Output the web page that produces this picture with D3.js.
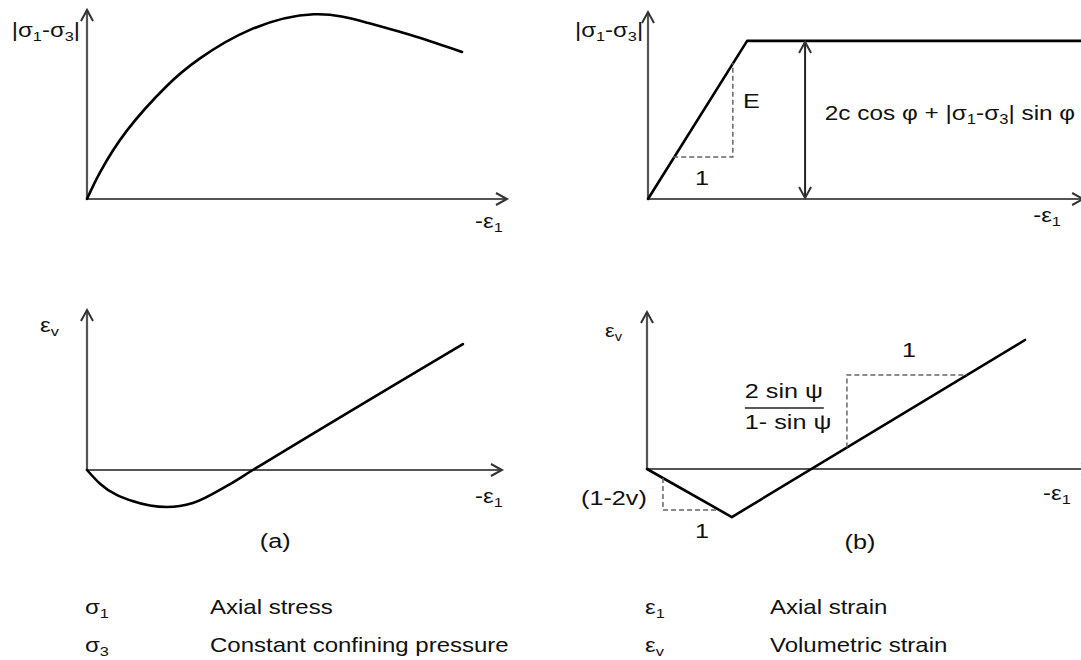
<!DOCTYPE html>
<html>
<head>
<meta charset="utf-8">
<script src="https://cdn.jsdelivr.net/npm/d3@7"></script>
<style>
body { margin: 0; background: #fff; }
text { font-family: "Liberation Sans", Arial, sans-serif; fill: #111; }
</style>
</head>
<body>
<svg id="fig" width="1081" height="660"></svg>
<script>
// (a) real soil: stress-strain curve with softening after the peak
var stressA = [[0,0],[0.31,1.4],[0.95,3.6],[1.9,5.95],[2.69,7.4],[3.88,8.9],
	[5.4,9.72],[6.67,9.28],[7.86,8.53],[8.93,7.74]]
// (a) volumetric strain: contraction first, then dilation
var volA = [[0,0],[0.31,-0.72],[1.1,-1.65],[1.9,-1.95],[2.52,-1.74],[3.33,-0.84],[3.95,0],[8.95,6.63]]
// (b) Mohr-Coulomb: linear elastic then perfectly plastic
var stressB = [[0,0],[2.36,8.32],[10.6,8.32]]
var volB = [[0,0],[2.02,-2.53],[9.0,6.79]]
// slope triangles
var triE = [[0.6,2.21],[2.02,2.21],[2.02,7.16]]
var triDil = [[4.76,1.13],[4.76,4.95],[7.62,4.95]]
var triNu = [[0.38,-0.48],[0.38,-2.16],[1.72,-2.16]]
var failX = 3.74

var legendSymbols = [['σ','1'],['σ','3'],['ε','1'],['ε','v']]
var legendNames = ['Axial stress','Constant confining pressure','Axial strain','Volumetric strain']

var svg = d3.select('#fig')
var SX = 1.2   // glyphs are a bit wider than tall in the original

function chevron(g, tx, ty, dir){
	var d
	if (dir=='up')    d = 'M'+(tx-6)+','+(ty+11)+'L'+tx+','+ty+'L'+(tx+6)+','+(ty+11)
	if (dir=='down')  d = 'M'+(tx-6)+','+(ty-11)+'L'+tx+','+ty+'L'+(tx+6)+','+(ty-11)
	if (dir=='right') d = 'M'+(tx-11)+','+(ty-6)+'L'+tx+','+ty+'L'+(tx-11)+','+(ty+6)
	g.append('path').attr('d',d).attr('fill','none')
		.attr('stroke','#333').attr('stroke-width',2).attr('stroke-linejoin','miter')
}

// parts: strings are normal text, [s] is a subscript
function label(g, x, y, parts, size, anchor){
	var t = g.append('text')
		.attr('transform','translate('+x+','+y+') scale('+SX+',1)')
		.attr('text-anchor',anchor||'start')
		.style('font-size',size+'px')
	var low = false
	parts.forEach(function(p){
		if (typeof p == 'string'){
			t.append('tspan').attr('dy', low ? -size*0.22 : 0).text(p)
			low = false
		} else {
			t.append('tspan').attr('dy', size*0.22).style('font-size',(size*0.68)+'px').text(p[0])
			low = true
		}
	})
	return t
}

function panel(ox, oy, xMax, yMax){
	var x = d3.scaleLinear().domain([0,10]).range([ox, ox+420])
	var y = d3.scaleLinear().domain([0,10]).range([oy, oy-190])
	var g = svg.append('g')
	g.append('line').attr('x1',x(0)).attr('y1',y(0)).attr('x2',x(xMax)).attr('y2',y(0))
		.attr('stroke','#555').attr('stroke-width',2.2)
	g.append('line').attr('x1',x(0)).attr('y1',y(0)).attr('x2',x(0)).attr('y2',y(yMax))
		.attr('stroke','#555').attr('stroke-width',2.2)
	chevron(g, x(xMax), y(0), 'right')
	chevron(g, x(0), y(yMax), 'up')
	return {g:g, x:x, y:y}
}

function curve(P, data, c){
	var line = d3.line().x(function(d){return P.x(d[0])}).y(function(d){return P.y(d[1])})
	if (c) line.curve(c)
	P.g.append('path').attr('d',line(data)).attr('fill','none')
		.attr('stroke','#000').attr('stroke-width',2.6)
		.attr('stroke-linejoin','round').attr('stroke-linecap','round')
}

function dashed(P, data){
	var line = d3.line().x(function(d){return P.x(d[0])}).y(function(d){return P.y(d[1])})
	P.g.append('path').attr('d',line(data)).attr('fill','none')
		.attr('stroke','#666').attr('stroke-width',1.5).attr('stroke-dasharray','5,3')
}

var sigDiff = ['|σ',['1'],'-σ',['3'],'|']
var epsAx = ['-ε',['1']]
var epsV = ['ε',['v']]

// top left
var A1 = panel(87, 199, 10, 9.95)
curve(A1, stressA, d3.curveNatural)
label(A1.g, A1.x(-1.79), A1.y(8.53), sigDiff, 20)
label(A1.g, A1.x(9.24), A1.y(-1.53), epsAx, 20)

// top right
var B1 = panel(648, 199, 10.36, 9.84)
curve(B1, stressB)
dashed(B1, triE)
label(B1.g, B1.x(-1.74), B1.y(8.53), sigDiff, 20)
label(B1.g, B1.x(9.17), B1.y(-1.21), epsAx, 20)
label(B1.g, B1.x(2.26), B1.y(4.79), ['E'], 21)
label(B1.g, B1.x(1.12), B1.y(0.74), ['1'], 21)
B1.g.append('line').attr('x1',B1.x(failX)).attr('x2',B1.x(failX))
	.attr('y1',B1.y(0)-1).attr('y2',B1.y(8.32)+1)
	.attr('stroke','#222').attr('stroke-width',2)
chevron(B1.g, B1.x(failX), B1.y(8.32)+1, 'up')
chevron(B1.g, B1.x(failX), B1.y(0)-1, 'down')
label(B1.g, B1.x(4.21), B1.y(4.16), ['2c cos φ + |σ',['1'],'-σ',['3'],'| sin φ'], 20.3)

// bottom left
var A2 = panel(87, 470, 9.88, 8.42)
curve(A2, volA, d3.curveMonotoneX)
label(A2.g, A2.x(-1.12), A2.y(7.26), epsV, 20)
label(A2.g, A2.x(9.24), A2.y(-1.74), epsAx, 20)
label(A2.g, A2.x(4.48), A2.y(-4.11), ['(a)'], 21, 'middle')

// bottom right
var B2 = panel(647, 469, 10.6, 8.26)
curve(B2, volB)
dashed(B2, triDil)
dashed(B2, triNu)
label(B2.g, B2.x(-1.0), B2.y(6.95), epsV, 18)
label(B2.g, B2.x(9.43), B2.y(-1.63), epsAx, 20)
label(B2.g, B2.x(2.33), B2.y(3.74), ['2 sin ψ'], 21)
B2.g.append('line').attr('x1',B2.x(2.33)).attr('x2',B2.x(4.21))
	.attr('y1',B2.y(3.21)).attr('y2',B2.y(3.21))
	.attr('stroke','#222').attr('stroke-width',1.5)
label(B2.g, B2.x(2.33), B2.y(2.11), ['1- sin ψ'], 21)
label(B2.g, B2.x(6.07), B2.y(5.89), ['1'], 21)
label(B2.g, B2.x(-1.57), B2.y(-1.89), ['(1-2v)'], 21)
label(B2.g, B2.x(1.14), B2.y(-3.63), ['1'], 21)
label(B2.g, B2.x(5.07), B2.y(-4.21), ['(b)'], 21, 'middle')

// legend
var rowY = d3.scalePoint().domain([0,1]).range([614, 652])
var colSym = [85, 645], colName = [210, 770]
var lg = svg.append('g')
legendNames.forEach(function(n, i){
	var col = Math.floor(i/2), row = i%2
	var s = legendSymbols[i]
	label(lg, colSym[col], rowY(row), [s[0], [s[1]]], 20)
	label(lg, colName[col], rowY(row), [n], 20)
})
</script>
</body>
</html>
